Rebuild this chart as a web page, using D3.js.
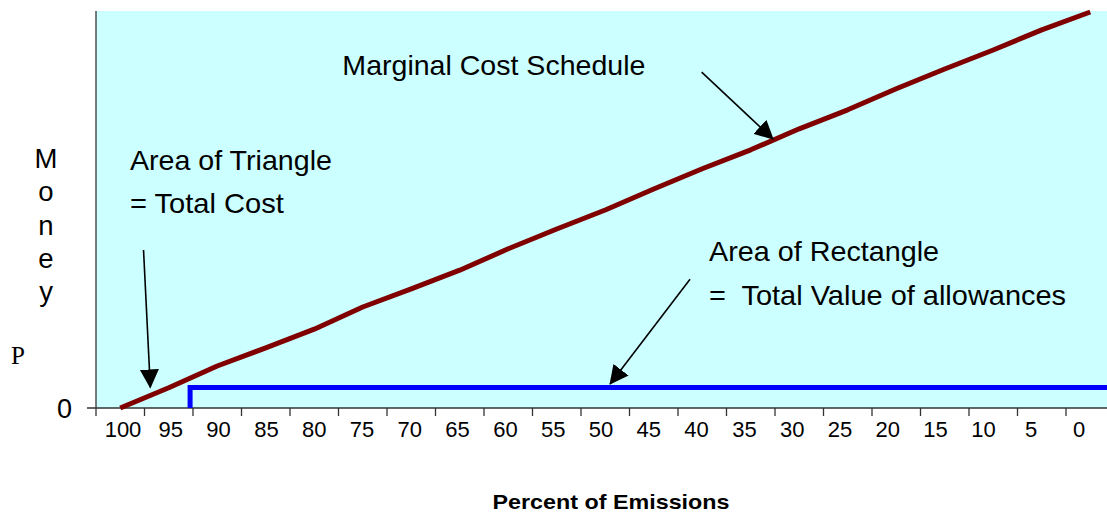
<!DOCTYPE html>
<html>
<head>
<meta charset="utf-8">
<script src="https://cdn.jsdelivr.net/npm/d3@7"></script>
<style>
  html, body { margin: 0; padding: 0; background: #ffffff; }
  svg { display: block; }
</style>
</head>
<body>
<svg id="chart" width="1107" height="513"></svg>
<script>
// ---- data ----
const percentLabels = [100, 95, 90, 85, 80, 75, 70, 65, 60, 55, 50, 45, 40, 35, 30, 25, 20, 15, 10, 5, 0];
const marginalCost = [0, 5.1, 10.6, 15.2, 19.9, 25.5, 30.1, 34.8, 40.2, 45.2, 50.0, 55.3, 60.4, 65.2, 70.5, 75.3, 80.6, 85.6, 90.4, 95.5, 100];
const allowancePrice = 5.2;
const allowanceStart = 92.8;
const allowanceEnd = -3;
const yAxisLetters = ["M", "o", "n", "e", "y"];

(function () {
// ---- layout ----
const svg = d3.select("#chart");
const plotLeft = 96, plotTop = 11, plotBottom = 408;
const step = 48.5;
const plotRight = plotLeft + step * percentLabels.length;

const x = d3.scaleLinear().domain([102.5, -2.5]).range([plotLeft, plotRight]);
const y = d3.scaleLinear().domain([0, 100]).range([plotBottom, 12]);
const labelX = d3.scaleLinear().domain([100, 0]).range([123, 1079]);

// plot background
svg.append("rect")
  .attr("x", plotLeft).attr("y", plotTop)
  .attr("width", plotRight - plotLeft).attr("height", plotBottom - plotTop)
  .attr("fill", "#CCFFFF");

const defs = svg.append("defs");
defs.append("clipPath").attr("id", "plotClip")
  .append("rect")
  .attr("x", plotLeft).attr("y", plotTop - 5)
  .attr("width", plotRight - plotLeft).attr("height", plotBottom - plotTop + 10);

// arrow marker
defs.append("marker")
  .attr("id", "arrow")
  .attr("markerUnits", "userSpaceOnUse")
  .attr("markerWidth", 20).attr("markerHeight", 20)
  .attr("viewBox", "0 0 20 20")
  .attr("refX", 18).attr("refY", 10)
  .attr("orient", "auto")
  .append("path")
  .attr("d", "M0,0.5 L19,10 L0,19.5 Z")
  .attr("fill", "#000");

// axes
const axisColor = "#333";
svg.append("line")
  .attr("x1", plotLeft).attr("x2", plotLeft)
  .attr("y1", plotTop).attr("y2", plotBottom)
  .attr("stroke", axisColor).attr("stroke-width", 1.3);
svg.append("line")
  .attr("x1", plotLeft - 9).attr("x2", plotRight)
  .attr("y1", y(0)).attr("y2", y(0))
  .attr("stroke", axisColor).attr("stroke-width", 1.3);

// x ticks at category boundaries
const tickVals = percentLabels.map(p => p + 2.5);
svg.append("g").selectAll("line").data(tickVals).join("line")
  .attr("x1", d => x(d)).attr("x2", d => x(d))
  .attr("y1", plotBottom).attr("y2", plotBottom + 8)
  .attr("stroke", axisColor).attr("stroke-width", 1.3);

// x tick labels
svg.append("g").selectAll("text").data(percentLabels).join("text")
  .attr("x", d => labelX(d))
  .attr("y", 437)
  .attr("text-anchor", "middle")
  .attr("font-family", "Liberation Sans, Arial, sans-serif")
  .attr("font-size", 22)
  .attr("fill", "#000")
  .text(d => d);

// y tick label 0
svg.append("text")
  .attr("x", 72).attr("y", 418)
  .attr("text-anchor", "end")
  .attr("font-family", "Liberation Sans, Arial, sans-serif")
  .attr("font-size", 27)
  .text("0");

// P label
svg.append("text")
  .attr("x", 11).attr("y", y(allowancePrice) - 23)
  .attr("font-family", "Liberation Serif, Times New Roman, serif")
  .attr("font-size", 25)
  .text("P");

// vertical "Money"
svg.append("g").selectAll("text").data(yAxisLetters).join("text")
  .attr("x", 46)
  .attr("y", (d, i) => 168 + i * 33.3)
  .attr("text-anchor", "middle")
  .attr("font-family", "Liberation Sans, Arial, sans-serif")
  .attr("font-size", 27.5)
  .text(d => d);

// x axis title
svg.append("text")
  .attr("x", 611).attr("y", 509)
  .attr("text-anchor", "middle")
  .attr("font-family", "Liberation Sans, Arial, sans-serif")
  .attr("font-weight", "bold")
  .attr("font-size", 20.5)
  .attr("textLength", 237)
  .attr("lengthAdjust", "spacingAndGlyphs")
  .text("Percent of Emissions");

// allowance rectangle line
const blue = [[allowanceStart, 0], [allowanceStart, allowancePrice], [allowanceEnd, allowancePrice]];
svg.append("path")
  .attr("clip-path", "url(#plotClip)")
  .attr("d", d3.line().x(d => x(d[0])).y(d => y(d[1]))(blue))
  .attr("fill", "none")
  .attr("stroke", "#0000FF")
  .attr("stroke-width", 5);

// marginal cost line
svg.append("path")
  .datum(percentLabels.map((p, i) => [p, marginalCost[i]]))
  .attr("d", d3.line().x(d => x(d[0])).y(d => y(d[1])))
  .attr("fill", "none")
  .attr("stroke", "#800000")
  .attr("stroke-width", 5)
  .attr("stroke-linejoin", "round");

// annotations (positions in data coordinates)
const notes = [
  { p: 77.1, m: 84.2, t: "Marginal Cost Schedule", w: 303 },
  { p: 99.0, m: 60.1, t: "Area of Triangle", w: 202 },
  { p: 99.0, m: 49.3, t: "= Total Cost", w: 154 },
  { p: 39.3, m: 37.2, t: "Area of Rectangle", w: 230 },
  { p: 39.3, m: 26.0, t: "=\u00a0 Total Value of allowances", w: 357 }
];
svg.append("g").selectAll("text").data(notes).join("text")
  .attr("x", d => x(d.p)).attr("y", d => y(d.m))
  .attr("font-family", "Liberation Sans, Arial, sans-serif")
  .attr("font-size", 28)
  .attr("textLength", d => d.w)
  .attr("lengthAdjust", "spacingAndGlyphs")
  .attr("fill", "#000")
  .text(d => d.t);

const arrows = [
  { p1: 40.06, m1: 84.8, p2: 32.7, m2: 67.9 },
  { p1: 97.6, m1: 39.9, p2: 96.9, m2: 5.2 },
  { p1: 41.26, m1: 32.5, p2: 49.5, m2: 6.06 }
];
svg.append("g").selectAll("line").data(arrows).join("line")
  .attr("x1", d => x(d.p1)).attr("y1", d => y(d.m1))
  .attr("x2", d => x(d.p2)).attr("y2", d => y(d.m2))
  .attr("stroke", "#000").attr("stroke-width", 1.6)
  .attr("marker-end", "url(#arrow)");
})();
</script>
</body>
</html>
